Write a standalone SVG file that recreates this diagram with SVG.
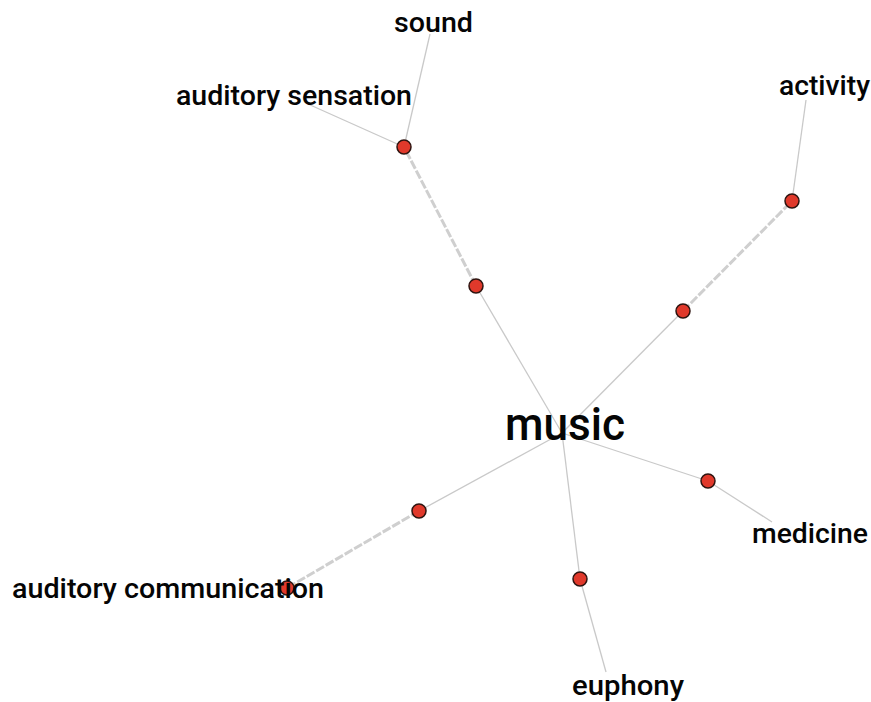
<svg xmlns="http://www.w3.org/2000/svg" width="871" height="702" viewBox="0 0 871 702">
  <style>
    .edge { stroke: #c9c9c9; stroke-width: 1.3; fill: none; }
    .edge.strong { stroke: #cfcfcf; stroke-width: 3; stroke-dasharray: 9 2; }
    .dot { fill: #e0392b; stroke: #2e1410; stroke-width: 1.5; }
    .label { font-family: Roboto, "Liberation Sans", sans-serif; font-weight: 500; font-size: 28px; fill: #050505; }
    .hub { font-family: Roboto, "Liberation Sans", sans-serif; font-weight: 500; font-size: 46px; fill: #050505; }
  </style>
  <rect width="871" height="702" fill="#ffffff"/>

  <g id="connectors">
    <line class="edge" x1="562" y1="433" x2="476" y2="286"/>
    <line class="edge strong" x1="476" y1="286" x2="404" y2="147"/>
    <line class="edge" x1="404" y1="147" x2="430" y2="34"/>
    <line class="edge" x1="404" y1="147" x2="308" y2="104"/>
    <line class="edge" x1="562" y1="433" x2="683" y2="311"/>
    <line class="edge strong" x1="683" y1="311" x2="792" y2="201"/>
    <line class="edge" x1="792" y1="201" x2="806" y2="100"/>
    <line class="edge" x1="562" y1="433" x2="708" y2="481"/>
    <line class="edge" x1="708" y1="481" x2="772" y2="522"/>
    <line class="edge" x1="562" y1="433" x2="580" y2="579"/>
    <line class="edge" x1="580" y1="579" x2="606" y2="672"/>
    <line class="edge" x1="562" y1="433" x2="419" y2="511"/>
    <line class="edge strong" x1="419" y1="511" x2="287" y2="588"/>
  </g>

  <g id="junctions">
    <circle class="dot" cx="404" cy="147" r="7"/>
    <circle class="dot" cx="476" cy="286" r="7"/>
    <circle class="dot" cx="792" cy="201" r="7"/>
    <circle class="dot" cx="683" cy="311" r="7"/>
    <circle class="dot" cx="708" cy="481" r="7"/>
    <circle class="dot" cx="580" cy="579" r="7"/>
    <circle class="dot" cx="419" cy="511" r="7"/>
    <circle class="dot" cx="287" cy="588" r="7"/>
  </g>

  <g id="node-music"><text class="hub" x="505" y="440" textLength="120" lengthAdjust="spacingAndGlyphs">music</text></g>
  <g id="node-sound"><text class="label" x="394" y="32" textLength="79" lengthAdjust="spacingAndGlyphs">sound</text></g>
  <g id="node-auditory-sensation"><text class="label" x="176" y="105" textLength="236" lengthAdjust="spacingAndGlyphs">auditory sensation</text></g>
  <g id="node-activity"><text class="label" x="779" y="95" textLength="91" lengthAdjust="spacingAndGlyphs">activity</text></g>
  <g id="node-medicine"><text class="label" x="752" y="543" textLength="116" lengthAdjust="spacingAndGlyphs">medicine</text></g>
  <g id="node-euphony"><text class="label" x="572" y="695" textLength="112" lengthAdjust="spacingAndGlyphs">euphony</text></g>
  <g id="node-auditory-communication"><text class="label" x="12" y="598" textLength="312" lengthAdjust="spacingAndGlyphs">auditory communication</text></g>
</svg>
